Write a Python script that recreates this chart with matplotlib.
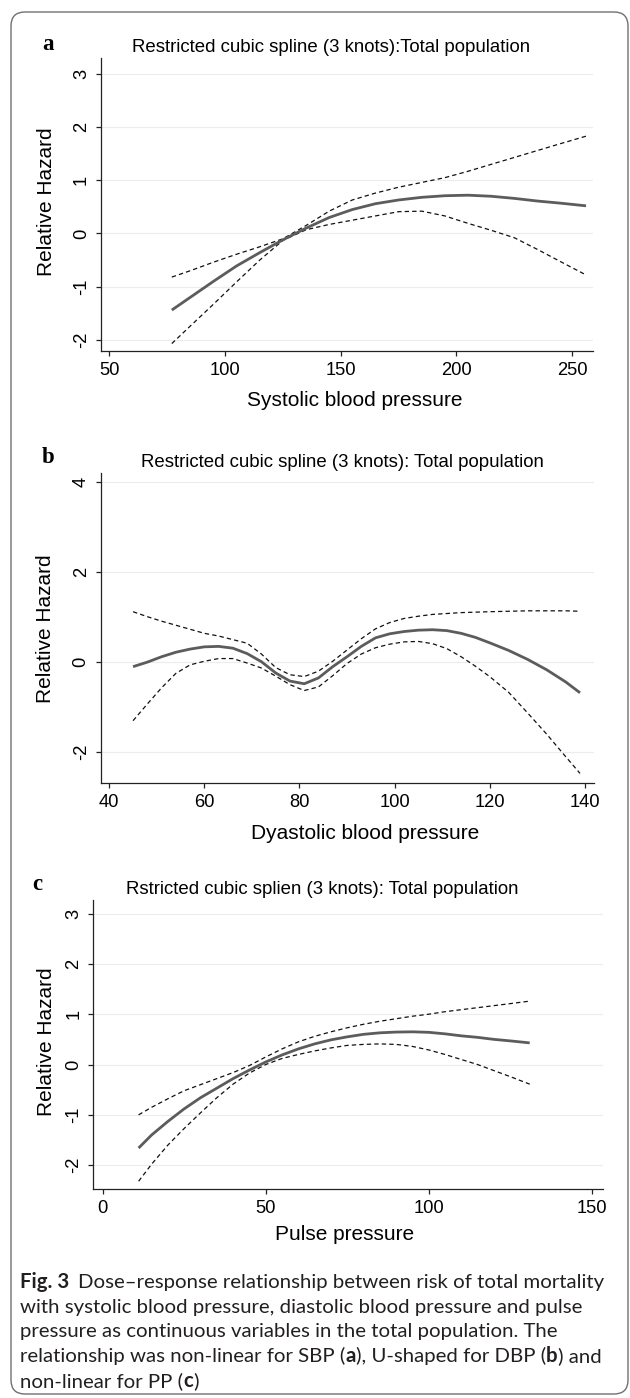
import matplotlib
matplotlib.use("Agg")
import matplotlib.pyplot as plt
from matplotlib.patches import FancyBboxPatch
from matplotlib.transforms import Affine2D

W, H = 630, 1398

# ---- panel a: systolic blood pressure ----
sbp = [77, 85, 95, 105, 115, 125, 135, 145, 155, 165, 175, 185, 195, 205, 215, 225, 235, 245, 256]
sbp_rh = [-1.44, -1.2, -0.9, -0.61, -0.36, -0.12, 0.1, 0.3, 0.45, 0.56, 0.63, 0.68, 0.71, 0.72, 0.7, 0.66, 0.61, 0.57, 0.52]
sbp_hi = [-0.82, -0.7, -0.54, -0.39, -0.25, -0.1, 0.15, 0.42, 0.63, 0.76, 0.87, 0.96, 1.05, 1.17, 1.3, 1.43, 1.56, 1.69, 1.83]
sbp_lo = [-2.07, -1.74, -1.33, -0.91, -0.5, -0.13, 0.07, 0.17, 0.25, 0.33, 0.41, 0.42, 0.33, 0.19, 0.06, -0.08, -0.3, -0.53, -0.78]
sbp_xticks = [50, 100, 150, 200, 250]
sbp_yticks = [-2, -1, 0, 1, 2, 3]

# ---- panel b: diastolic blood pressure ----
dbp = [45, 48, 51, 54, 57, 60, 63, 66, 69, 72, 75, 78, 81, 84, 87, 90, 93, 96, 99, 102,
       105, 108, 111, 114, 117, 120, 124, 128, 132, 136, 139]
dbp_rh = [-0.1, 0.0, 0.12, 0.22, 0.29, 0.34, 0.35, 0.31, 0.19, 0.01, -0.24, -0.42, -0.48, -0.35, -0.1, 0.12,
          0.35, 0.54, 0.63, 0.68, 0.71, 0.72, 0.7, 0.64, 0.55, 0.43, 0.26, 0.06, -0.17, -0.44, -0.68]
dbp_hi = [1.12, 1.01, 0.91, 0.82, 0.73, 0.64, 0.58, 0.5, 0.42, 0.18, -0.12, -0.28, -0.32, -0.2, 0.02, 0.27,
          0.52, 0.74, 0.88, 0.97, 1.02, 1.06, 1.08, 1.1, 1.11, 1.12, 1.13, 1.14, 1.14, 1.14, 1.13]
dbp_lo = [-1.3, -0.93, -0.57, -0.25, -0.06, 0.02, 0.08, 0.08, -0.02, -0.13, -0.31, -0.5, -0.63, -0.55, -0.3, -0.03,
          0.18, 0.32, 0.4, 0.45, 0.46, 0.41, 0.3, 0.12, -0.09, -0.32, -0.67, -1.13, -1.6, -2.1, -2.47]
dbp_xticks = [40, 60, 80, 100, 120, 140]
dbp_yticks = [-2, 0, 2, 4]

# ---- panel c: pulse pressure ----
pp = [11, 15, 20, 25, 30, 35, 40, 45, 50, 55, 60, 65, 70, 75, 80, 85, 90, 95, 100, 105, 110, 115, 120, 125, 131]
pp_rh = [-1.66, -1.4, -1.13, -0.88, -0.66, -0.47, -0.28, -0.11, 0.05, 0.19, 0.31, 0.41, 0.49, 0.55, 0.6, 0.63,
         0.645, 0.65, 0.64, 0.61, 0.57, 0.54, 0.5, 0.47, 0.43]
pp_hi = [-1.0, -0.85, -0.68, -0.52, -0.4, -0.28, -0.16, -0.02, 0.15, 0.31, 0.45, 0.56, 0.65, 0.73, 0.8, 0.86,
         0.91, 0.96, 1.0, 1.05, 1.09, 1.13, 1.17, 1.21, 1.26]
pp_lo = [-2.32, -1.98, -1.6, -1.27, -0.96, -0.66, -0.39, -0.17, 0.0, 0.12, 0.2, 0.27, 0.33, 0.38, 0.4, 0.41,
         0.4, 0.36, 0.29, 0.2, 0.1, 0.0, -0.12, -0.24, -0.39]
pp_xticks = [0, 50, 100, 150]
pp_yticks = [-2, -1, 0, 1, 2, 3]

panels = [
    dict(x=sbp, rh=sbp_rh, hi=sbp_hi, lo=sbp_lo, xt=sbp_xticks, yt=sbp_yticks,
         box=(101, 58, 593, 351), xlim=(46.4, 259), ylim=(-2.21, 3.3),
         letter='a', letter_xy=(48, 50),
         title='Restricted cubic spline (3 knots):Total population', title_xy=(331, 51.7),
         xlabel='Systolic blood pressure', xlabel_xy=(355, 406), ylabel_xy=(47, 202)),
    dict(x=dbp, rh=dbp_rh, hi=dbp_hi, lo=dbp_lo, xt=dbp_xticks, yt=dbp_yticks,
         box=(100.7, 473, 593.8, 783.3), xlim=(38.2, 141.9), ylim=(-2.69, 4.2),
         letter='b', letter_xy=(48, 463),
         title='Restricted cubic spline (3 knots): Total population', title_xy=(342, 467),
         xlabel='Dyastolic blood pressure', xlabel_xy=(365, 839.3), ylabel_xy=(46, 629)),
    dict(x=pp, rh=pp_rh, hi=pp_hi, lo=pp_lo, xt=pp_xticks, yt=pp_yticks,
         box=(93.3, 900, 602.7, 1189.3), xlim=(-2.9, 153.4), ylim=(-2.48, 3.27),
         letter='c', letter_xy=(37, 890),
         title='Rstricted cubic splien (3 knots): Total population', title_xy=(322.6, 894),
         xlabel='Pulse pressure', xlabel_xy=(345, 1240), ylabel_xy=(47, 1042)),
]

plt.rcParams['font.family'] = ['Liberation Sans', 'DejaVu Sans']
plt.rcParams['axes.unicode_minus'] = False

fig = plt.figure(figsize=(W / 100, H / 100), dpi=100)
# pixel coordinates, origin at top-left
pix = Affine2D().scale(1 / W, -1 / H).translate(0, 1) + fig.transFigure

fig.patches.append(FancyBboxPatch((11, 12), 617, 1382, boxstyle="round,pad=0,rounding_size=14",
                                  transform=pix, fill=False, ec='#707070', lw=1.0))

dash = (0, (3.5, 2.5))
for p in panels:
    l, t, r, b = p['box']
    ax = fig.add_axes([l / W, 1 - b / H, (r - l) / W, (b - t) / H])
    for yv in p['yt']:
        ax.axhline(yv, color='#ececec', lw=0.8, zorder=0)
    ax.plot(p['x'], p['hi'], color='#111111', lw=0.9, ls=dash)
    ax.plot(p['x'], p['lo'], color='#111111', lw=0.9, ls=dash)
    ax.plot(p['x'], p['rh'], color='#5c5c5c', lw=2.0, solid_capstyle='butt')
    ax.set_xlim(*p['xlim'])
    ax.set_ylim(*p['ylim'])
    ax.set_xticks(p['xt'])
    ax.set_yticks(p['yt'])
    for s in ['top', 'right']:
        ax.spines[s].set_visible(False)
    for s in ['left', 'bottom']:
        ax.spines[s].set_color('#222222')
        ax.spines[s].set_linewidth(0.9)
    ax.tick_params(length=3.6, width=0.9, color='#222222', labelsize=13.2, pad=4.3)
    plt.setp(ax.get_yticklabels(), rotation=90, va='center')
    ax.set_facecolor('white')

    fig.text(*p['letter_xy'], p['letter'], transform=pix, ha='center', va='baseline',
             family='Liberation Serif', fontweight='bold', fontsize=16.5)
    fig.text(*p['title_xy'], p['title'], transform=pix, ha='center', va='baseline', fontsize=13.4)
    fig.text(*p['xlabel_xy'], p['xlabel'], transform=pix, ha='center', va='baseline', fontsize=15)
    fig.text(*p['ylabel_xy'], 'Relative Hazard', transform=pix, ha='center', va='center',
             rotation=90, fontsize=15)

# ---- caption ----
cap_font = ['Lato', 'Liberation Sans']
cap_lines = [
    [("Fig. 3", True, 9), ("Dose\u2013response relationship between risk of total mortality", False, 0)],
    [("with systolic blood pressure, diastolic blood pressure and pulse", False, 0)],
    [("pressure as continuous variables in the total population. The", False, 0)],
    [("relationship was non-linear for SBP (", False, 0), ("a", True, 0),
     ("), U-shaped for DBP (", False, 0), ("b", True, 0), (") and", False, 0)],
    [("non-linear for PP (", False, 0), ("c", True, 0), (")", False, 0)],
]
rend = fig.canvas.get_renderer()


def draw_line(segs, x, y, fs):
    arts = []
    for s, bold, gap in segs:
        txt = fig.text(x, y, s, transform=pix, ha='left', va='baseline', color='#231f20',
                       family=cap_font, fontweight='bold' if bold else 'normal', fontsize=fs)
        arts.append(txt)
        x = txt.get_window_extent(rend).x1 + gap
    return x, arts


# size the caption so the first line spans the same width as in the figure
end, probe = draw_line(cap_lines[0], 20, 1288, 10)
for a in probe:
    a.remove()
cap_fs = 10 * (607 - 20 - 9) / (end - 20 - 9)

for i, segs in enumerate(cap_lines):
    draw_line(segs, 20, 1288.3 + 24.6 * i, cap_fs)

fig.savefig('out.png', dpi=100)
